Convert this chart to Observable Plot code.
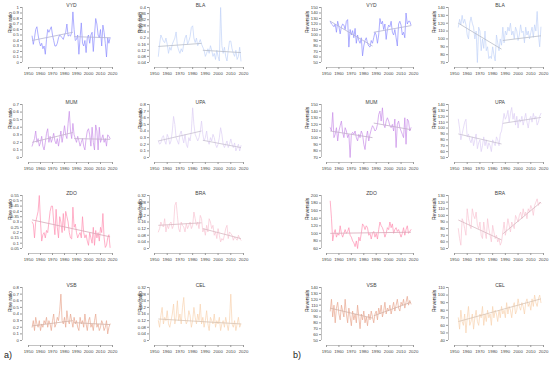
<!DOCTYPE html>
<html><head><meta charset="utf-8">
<script src="https://cdn.jsdelivr.net/npm/d3@7"></script>
<script src="https://cdn.jsdelivr.net/npm/@observablehq/plot@0.6"></script>
<style>
body{margin:0;background:#fff;font-family:"Liberation Sans",Arial,sans-serif;}
#c{position:relative;width:550px;height:366px;overflow:hidden;}
#c svg{position:absolute;background:transparent;overflow:visible;}
.lab{position:absolute;font-size:9px;color:#222;}
</style></head><body>
<div id="c"></div>
<script>
const firstYear = 1953;
const xTicks = [1950,1960,1970,1980,1990,2000,2010,2020];
// ---- series values (1953..2018) ----
const vydRise = [0.48,0.33,0.45,0.6,0.65,0.5,0.38,0.3,0.35,0.25,0.3,0.15,0.42,0.6,0.55,0.6,0.65,0.5,0.4,0.3,0.3,0.35,0.45,0.5,0.48,0.45,0.42,0.5,0.55,0.7,0.48,0.5,0.48,0.55,0.92,0.6,0.4,0.42,0.5,0.15,0.45,0.72,0.35,0.3,0.4,0.18,0.45,0.5,0.35,0.5,0.55,0.2,0.5,0.8,0.7,0.5,0.45,0.6,0.3,0.68,0.55,0.35,0.1,0.45,0.35,0.45];
const blaRise = [0.08,0.16,0.22,0.2,0.18,0.17,0.2,0.16,0.1,0.14,0.12,0.16,0.18,0.2,0.24,0.15,0.12,0.1,0.13,0.11,0.16,0.2,0.22,0.16,0.18,0.21,0.27,0.28,0.2,0.17,0.2,0.15,0.17,0.19,0.16,0.14,0.12,0.08,0.1,0.13,0.1,0.15,0.12,0.08,0.1,0.06,0.12,0.08,0.05,0.4,0.15,0.1,0.14,0.08,0.05,0.12,0.18,0.18,0.13,0.1,0.08,0.12,0.06,0.08,0.14,0.05];
const vydRev = [125,120,118,115,120,105,125,115,102,115,120,118,110,125,128,78,110,100,108,95,112,85,100,90,85,95,62,80,90,95,85,80,78,90,85,95,105,100,85,100,130,120,125,110,120,92,110,118,115,125,105,100,110,95,80,120,125,118,100,105,95,140,120,125,125,118];
const blaRev = [115,125,118,130,120,125,118,105,100,120,128,120,115,100,110,70,115,110,85,100,88,110,85,90,75,78,75,90,80,72,105,95,85,100,92,115,95,110,105,115,110,120,105,110,100,115,110,98,105,118,108,110,95,115,105,110,100,108,115,102,118,110,135,105,90,115];
const mumRise = [0.15,0.2,0.25,0.35,0.2,0.25,0.15,0.2,0.28,0.15,0.1,0.2,0.32,0.38,0.2,0.28,0.2,0.25,0.32,0.22,0.18,0.25,0.15,0.25,0.35,0.2,0.3,0.42,0.3,0.25,0.45,0.61,0.35,0.25,0.45,0.3,0.25,0.2,0.28,0.22,0.15,0.2,0.25,0.15,0.1,0.25,0.35,0.38,0.3,0.15,0.4,0.2,0.1,0.43,0.35,0.1,0.4,0.2,0.25,0.3,0.2,0.25,0.15,0.3,0.28,0.25];
const upaRise = [0.25,0.2,0.22,0.3,0.33,0.25,0.2,0.35,0.3,0.2,0.25,0.4,0.62,0.5,0.3,0.25,0.2,0.35,0.4,0.3,0.22,0.35,0.2,0.15,0.3,0.25,0.4,0.75,0.5,0.35,0.3,0.25,0.3,0.4,0.55,0.35,0.25,0.3,0.4,0.25,0.2,0.3,0.25,0.35,0.3,0.2,0.15,0.2,0.3,0.45,0.35,0.2,0.15,0.2,0.25,0.15,0.2,0.28,0.2,0.15,0.22,0.1,0.15,0.2,0.1,0.18];
const mumRev = [115,110,138,100,105,115,95,110,118,125,108,100,115,110,100,105,70,105,108,105,110,100,95,105,100,110,105,90,82,100,110,95,105,112,118,115,110,112,120,135,140,125,145,120,115,125,130,125,118,115,120,110,128,85,120,125,115,110,105,100,130,90,128,125,110,115];
const upaRev = [115,100,80,90,100,110,115,85,90,80,75,85,70,80,90,65,75,80,60,70,85,70,80,65,75,70,60,80,75,70,85,80,70,90,95,110,125,115,120,130,110,125,135,115,125,105,120,100,115,110,120,105,115,125,110,100,115,120,110,125,115,120,105,110,120,125];
const zdoRise = [0.3,0.28,0.15,0.3,0.35,0.4,0.55,0.3,0.12,0.18,0.2,0.15,0.22,0.2,0.3,0.4,0.45,0.45,0.3,0.18,0.42,0.25,0.15,0.35,0.3,0.2,0.38,0.22,0.4,0.35,0.3,0.2,0.15,0.14,0.44,0.25,0.28,0.2,0.15,0.18,0.2,0.15,0.35,0.2,0.15,0.18,0.12,0.08,0.2,0.15,0.1,0.25,0.08,0.22,0.15,0.2,0.12,0.25,0.2,0.38,0.15,0.06,0.08,0.15,0.18,0.06];
const braRise = [0.1,0.12,0.16,0.14,0.13,0.18,0.1,0.14,0.12,0.15,0.16,0.12,0.14,0.26,0.28,0.2,0.12,0.1,0.16,0.14,0.13,0.1,0.15,0.12,0.14,0.16,0.12,0.14,0.22,0.18,0.14,0.16,0.12,0.2,0.18,0.1,0.12,0.08,0.14,0.1,0.18,0.16,0.12,0.14,0.08,0.1,0.06,0.12,0.08,0.04,0.06,0.05,0.08,0.12,0.14,0.06,0.1,0.09,0.08,0.05,0.07,0.06,0.05,0.08,0.06,0.05];
const zdoRev = [185,140,80,100,110,90,100,95,120,100,90,100,110,100,105,115,95,90,80,75,65,80,60,90,80,100,125,120,110,120,115,95,100,85,100,105,90,100,85,110,130,120,115,105,90,100,115,110,130,115,125,100,110,115,105,110,100,90,100,115,95,110,120,100,105,110];
const braRev = [80,65,55,95,90,80,70,110,95,85,80,110,100,95,105,85,80,90,70,65,90,75,65,95,80,70,60,85,75,65,70,60,65,55,60,75,90,70,80,95,85,75,90,85,80,100,95,90,100,105,95,110,100,105,95,110,105,115,110,100,115,120,125,115,120,118];
const vsbRise = [0.2,0.3,0.15,0.35,0.25,0.2,0.3,0.15,0.25,0.2,0.3,0.25,0.35,0.2,0.3,0.25,0.15,0.3,0.4,0.2,0.25,0.35,0.3,0.45,0.7,0.3,0.25,0.35,0.2,0.45,0.3,0.25,0.4,0.3,0.2,0.35,0.25,0.3,0.2,0.15,0.35,0.25,0.3,0.2,0.4,0.25,0.15,0.3,0.35,0.2,0.25,0.15,0.3,0.4,0.2,0.25,0.15,0.2,0.3,0.25,0.15,0.2,0.3,0.1,0.2,0.25];
const celRise = [0.12,0.08,0.15,0.2,0.1,0.14,0.12,0.18,0.1,0.08,0.12,0.16,0.22,0.1,0.14,0.24,0.12,0.16,0.1,0.2,0.26,0.14,0.1,0.12,0.18,0.15,0.08,0.12,0.2,0.14,0.1,0.16,0.12,0.22,0.1,0.14,0.08,0.12,0.18,0.1,0.06,0.14,0.12,0.1,0.16,0.08,0.12,0.1,0.14,0.06,0.1,0.12,0.08,0.14,0.1,0.06,0.12,0.28,0.1,0.08,0.12,0.06,0.1,0.14,0.08,0.1];
const vsbRev = [100,120,90,110,80,105,115,95,85,110,100,90,120,95,80,105,90,75,100,85,95,80,110,90,70,95,85,100,80,90,75,95,85,100,90,80,95,100,85,105,95,110,90,100,115,95,105,100,110,95,105,115,100,110,120,105,100,115,110,120,105,115,125,110,118,112];
const celRev = [70,55,80,65,60,75,50,70,85,60,65,75,55,70,80,65,60,75,70,85,60,75,65,80,70,75,60,85,70,80,75,65,80,70,85,75,80,70,90,75,85,80,70,85,90,75,80,95,85,80,90,85,75,90,95,85,90,80,95,85,100,90,85,95,100,90];
// ---- trend segments [year1, value1, year2, value2] ----
const vydRiseTrend = [[1953,0.40,1987,0.55],[1988,0.47,2018,0.45]];
const blaRiseTrend = [[1953,0.145,1987,0.165],[1988,0.12,2018,0.105]];
const vydRevTrend = [[1953,125,1987,80],[1988,105,2018,117]];
const blaRevTrend = [[1953,120,1987,87],[1988,98,2018,104]];
const mumRiseTrend = [[1953,0.20,1987,0.33],[1988,0.25,2018,0.24]];
const upaRiseTrend = [[1953,0.25,1987,0.40],[1988,0.26,2018,0.15]];
const mumRevTrend = [[1953,110,1987,100],[1988,122,2018,112]];
const upaRevTrend = [[1953,90,1987,73],[1988,108,2018,118]];
const zdoRiseTrend = [[1953,0.32,2018,0.16]];
const braRiseTrend = [[1953,0.14,1987,0.155],[1988,0.12,2018,0.06]];
const zdoRevTrend = [[1953,100,2018,103]];
const braRevTrend = [[1953,93,1987,63],[1988,72,2018,120]];
const vsbRiseTrend = [[1953,0.22,1987,0.30],[1988,0.27,2018,0.24]];
const celRiseTrend = [[1953,0.13,2018,0.10]];
const vsbRevTrend = [[1953,105,1987,88],[1988,92,2018,115]];
const celRevTrend = [[1953,65,2018,95]];
// ---- panel definitions ----
const titles = ["VYD","BLA","VYD","BLA","MUM","UPA","MUM","UPA","ZDO","BRA","ZDO","BRA","VSB","CEL","VSB","CEL"];
const yLabels = ["Rise ratio","Rise ratio","Reversals","Reversals"];
const series = [vydRise,blaRise,vydRev,blaRev,mumRise,upaRise,mumRev,upaRev,zdoRise,braRise,zdoRev,braRev,vsbRise,celRise,vsbRev,celRev];
const trends = [vydRiseTrend,blaRiseTrend,vydRevTrend,blaRevTrend,mumRiseTrend,upaRiseTrend,mumRevTrend,upaRevTrend,zdoRiseTrend,braRiseTrend,zdoRevTrend,braRevTrend,vsbRiseTrend,celRiseTrend,vsbRevTrend,celRevTrend];
const yDomains = [[0,1,0.1],[0.04,0.4,0.04],[50,150,10],[70,140,10],
                  [0,0.7,0.1],[0,0.8,0.1],[70,150,10],[50,140,10],
                  [0.05,0.55,0.05],[0,0.32,0.04],[60,200,20],[50,130,10],
                  [0,0.8,0.1],[0,0.32,0.04],[50,140,10],[40,110,10]];
const rowColors = [["#8c8cff","#c2d2f8"],["#c88ee8","#dccff4"],["#ff8fb2","#f8c4d2"],["#e8a890","#f8d2b0"]];
const trendColors = [["#b4b4d4","#b8bcc8"],["#c4b0cc","#c8c0d0"],["#d8a8b8","#d8b8c0"],["#d4b4a8","#d8c4b4"]];

// ---- geometry ----
const COLS = [{axis:22,x0:28,x1:112,lab:12},{axis:149,x0:154,x1:243,lab:9},{axis:321,x0:326,x1:413,lab:14},{axis:448,x0:454,x1:543,lab:14}];
const ROWS = [{top:7,bot:62},{top:104,bot:157},{top:195,bot:248},{top:287,bot:340}];
const GAP = 5;
const c = document.getElementById("c");
const fmt = v => String(+v.toFixed(3));

series.forEach((vals, i) => {
  const row = Math.floor(i/4), col = i%4;
  const C = COLS[col], R = ROWS[row];
  const [ymin, ymax, step] = yDomains[i];
  const yTicks = d3.range(ymin, ymax + step/2, step).map(v => +v.toFixed(3));
  const left = C.axis - 24, top = R.top - 9;
  const width = C.x1 + 8 - left, height = R.bot + 18 - top;
  const kx = (C.x1 - C.x0)/70, ky = (R.bot - R.top)/(ymax - ymin);
  const axisYear = 1950 - (C.x0 - C.axis)/kx;
  const axisVal = ymin - GAP/ky;
  const data = vals.map((v, j) => ({year: firstYear + j, v}));
  const tr = trends[i].map(([a,b,c2,d]) => ({x1:a,y1:b,x2:c2,y2:d}));
  const svg = Plot.plot({
    width, height,
    marginLeft: C.axis - left, marginTop: 0, marginRight: 0,
    marginBottom: height - (R.bot + GAP - top),
    style: {fontFamily: "Liberation Sans, Arial, sans-serif", color: "#444", background: "transparent"},
    x: {domain: [1950, 2020], range: [C.x0 - left, C.x1 - left]},
    y: {domain: [ymin, ymax], range: [R.bot - top, R.top - top]},
    marks: [
      Plot.ruleX([axisYear], {y1: ymin, y2: ymax, stroke: "#999", strokeWidth: 0.6}),
      Plot.ruleY([axisVal], {x1: 1950, x2: 2020, stroke: "#999", strokeWidth: 0.6}),
      Plot.axisY({ticks: yTicks, tickFormat: fmt, tickSize: 2, tickPadding: 1.5, fontSize: 4.3, stroke: "#999", fill: "#444", label: null}),
      Plot.axisX({ticks: xTicks, tickFormat: d => String(d), tickSize: 2, tickPadding: 2.5, fontSize: 4.3, stroke: "#999", fill: "#444", label: null}),
      Plot.line(data, {x: "year", y: "v", stroke: rowColors[row][col%2], strokeWidth: 0.7}),
      Plot.link(tr, {x1: "x1", y1: "y1", x2: "x2", y2: "y2", stroke: trendColors[row][col%2], strokeWidth: 0.8}),
      Plot.text([titles[i]], {frameAnchor: "top", dy: 5, fontSize: 5, fill: "#444"}),
      Plot.text([yLabels[col]], {frameAnchor: "left", dx: -C.lab, rotate: -90, fontSize: 5, fill: "#222"})
    ]
  });
  svg.style.left = left + "px";
  svg.style.top = top + "px";
  c.appendChild(svg);
});
const a = document.createElement("div"); a.className = "lab"; a.textContent = "a)"; a.style.left = "4px"; a.style.top = "350px"; c.appendChild(a);
const b = document.createElement("div"); b.className = "lab"; b.textContent = "b)"; b.style.left = "293px"; b.style.top = "350px"; c.appendChild(b);
</script>
</body></html>
